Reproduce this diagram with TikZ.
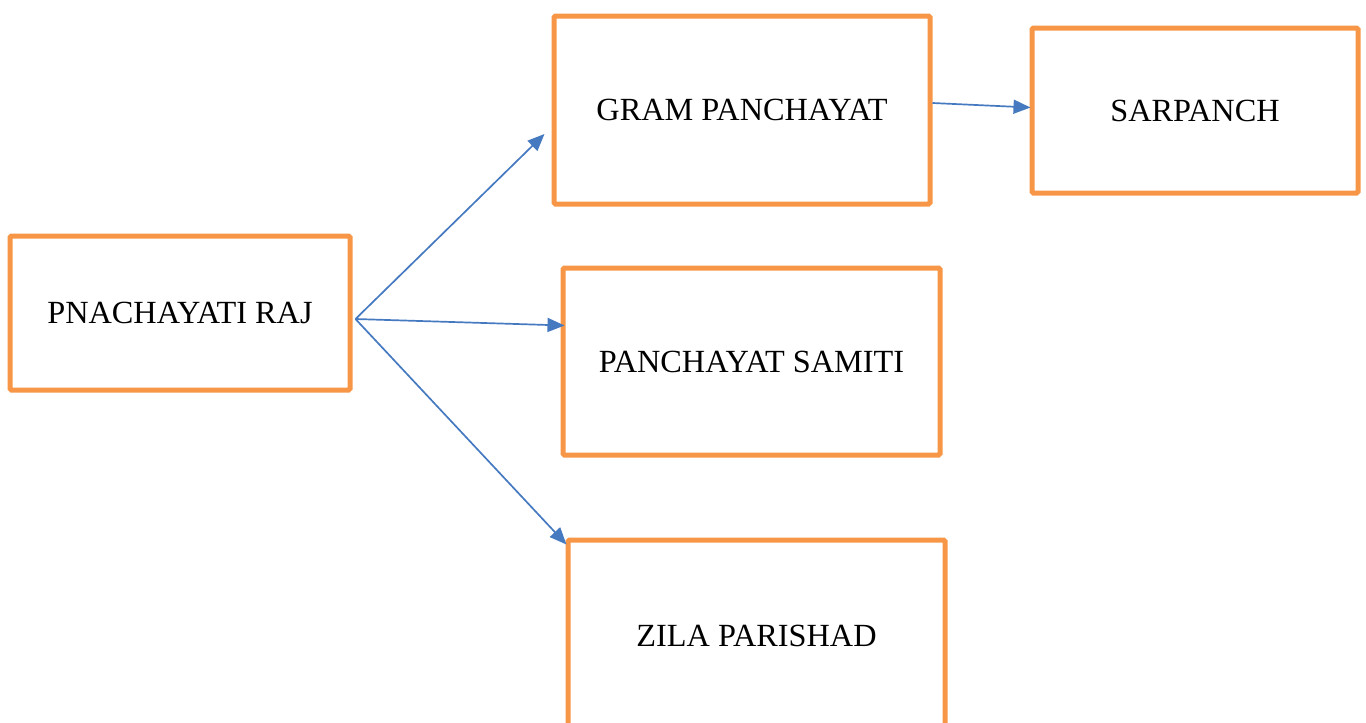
\documentclass[tikz,border=0pt]{standalone}
\usepackage{fontspec}
\setmainfont{Liberation Serif}
\usetikzlibrary{arrows.meta,calc}
\definecolor{boxorange}{RGB}{247,150,70}
\definecolor{arrowblue}{RGB}{70,122,192}
\begin{document}
\begin{tikzpicture}[x=1pt,y=-1pt,
  box/.style={draw=boxorange, line width=5pt, rounded corners=1.5pt, rectangle, inner sep=0pt,
    font=\fontsize{32.3}{38}\selectfont},
  conn/.style={draw=arrowblue, line width=1.7pt, -{Triangle[length=17pt,width=14pt]}}]
\useasboundingbox (0,0) rectangle (1366,723);
\node[box, minimum width=340pt, minimum height=154pt] (pr) at (180,313) {PNACHAYATI RAJ};
\node[box, minimum width=376pt, minimum height=188pt] (gp) at (742,110) {GRAM PANCHAYAT};
\node[box, minimum width=326pt, minimum height=165pt] (sp) at (1195,110.5) {SARPANCH};
\node[box, minimum width=377pt, minimum height=187pt] (ps) at (751.5,361.5) {PANCHAYAT SAMITI};
\node[box, minimum width=377pt, minimum height=192pt] (zp) at (756.5,636) {ZILA PARISHAD};
\coordinate (src) at ($(pr.east)+(3,6)$);
\coordinate (t1) at ($(gp.west)+(-7,24)$);
\coordinate (t2) at ($(ps.west)+(4,-36)$);
\coordinate (t3) at ($(zp.north west)+(1,7)$);
\coordinate (s4) at ($(gp.east)+(0,-7)$);
\coordinate (t4) at ($(sp.west)+(1,-3)$);
\draw[conn] (src) -- (t1);
\draw[conn] (src) -- (t2);
\draw[conn] (src) -- (t3);
\draw[conn] (s4) -- (t4);
\end{tikzpicture}
\end{document}
